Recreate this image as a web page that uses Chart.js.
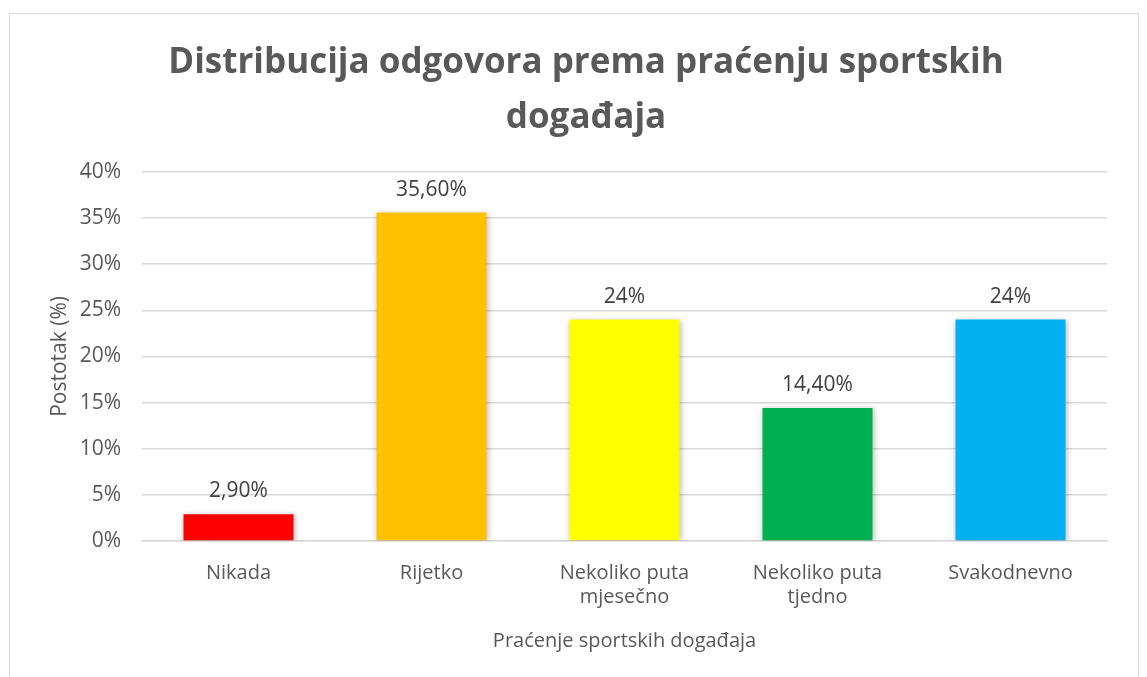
<!DOCTYPE html>
<html>
<head>
<meta charset="utf-8">
<script src="https://cdn.jsdelivr.net/npm/chart.js@4"></script>
<style>
  html, body { margin: 0; padding: 0; background: #fff; }
  #frame { position: absolute; left: 9px; top: 13px; width: 1128px; height: 700px; border: 1px solid #d9d9d9; }
  #wrap { position: absolute; left: 0; top: 0; width: 1147px; height: 677px; }
</style>
</head>
<body>
<div id="frame"></div>
<div id="wrap"><canvas id="myChart" width="1147" height="677"></canvas></div>
<script>
// chart data
var categories = [["Nikada"], ["Rijetko"], ["Nekoliko puta", "mjesečno"], ["Nekoliko puta", "tjedno"], ["Svakodnevno"]];
var values = [2.9, 35.6, 24, 14.4, 24];
var valueLabels = ["2,90%", "35,60%", "24%", "14,40%", "24%"];
var barColors = ["#FF0000", "#FFC000", "#FFFF00", "#00B050", "#00B0F0"];
var yTicks = [0, 5, 10, 15, 20, 25, 30, 35, 40];

var fontFam = "'Open Sans', sans-serif";
var grey = "#595959";

// soft shadow under the bars, like the office chart
var barShadow = {
    id: "barShadow",
    beforeDatasetDraw: function (chart) {
        var ctx = chart.ctx;
        ctx.save();
        ctx.shadowColor = "rgba(0,0,0,0.28)";
        ctx.shadowBlur = 6;
        ctx.shadowOffsetX = 1;
        ctx.shadowOffsetY = 1;
    },
    afterDatasetDraw: function (chart) {
        chart.ctx.restore();
    }
};

// value labels on top of the bars
var topLabels = {
    id: "topLabels",
    afterDatasetsDraw: function (chart) {
        var ctx = chart.ctx;
        var meta = chart.getDatasetMeta(0);
        ctx.save();
        ctx.font = "21px " + fontFam;
        ctx.fillStyle = "#404040";
        ctx.textAlign = "center";
        ctx.textBaseline = "alphabetic";
        meta.data.forEach(function (bar, i) {
            ctx.fillText(valueLabels[i], bar.x, bar.y - 17);
        });
        ctx.restore();
    }
};

var ctx = document.getElementById("myChart").getContext("2d");
var chart = new Chart(ctx, {
    type: "bar",
    data: {
        labels: categories,
        datasets: [{
            data: values,
            backgroundColor: barColors,
            borderWidth: 0,
            categoryPercentage: 1,
            barPercentage: 0.57
        }]
    },
    plugins: [barShadow, topLabels],
    options: {
        responsive: false,
        animation: false,
        layout: { padding: { left: 65, right: 40, top: 0, bottom: 24 } },
        plugins: {
            legend: { display: false },
            tooltip: { enabled: false },
            title: {
                display: true,
                text: ["Distribucija odgovora prema praćenju sportskih", "događaja"],
                color: grey,
                font: { family: fontFam, size: 35, weight: "bold", lineHeight: 1.57 },
                padding: { top: 36, bottom: 26 }
            }
        },
        scales: {
            x: {
                grid: { display: false, drawTicks: false },
                border: { color: "#d9d9d9", width: 1.5 },
                ticks: { color: grey, font: { family: fontFam, size: 20 }, padding: 20, maxRotation: 0 },
                title: {
                    display: true,
                    text: "Praćenje sportskih događaja",
                    color: grey,
                    font: { family: fontFam, size: 20 },
                    padding: { top: 0, bottom: 0 }
                },
                afterFit: function (axis) { axis.height = 112; }
            },
            y: {
                min: 0,
                max: 40,
                afterBuildTicks: function (axis) {
                    axis.ticks = yTicks.map(function (v) { return { value: v }; });
                },
                grid: { color: "#d9d9d9", lineWidth: 1.5, drawTicks: false },
                border: { display: false },
                ticks: {
                    color: grey,
                    font: { family: fontFam, size: 21 },
                    padding: 21,
                    callback: function (v) { return v + "%"; }
                },
                title: {
                    display: true,
                    text: "Postotak (%)",
                    color: grey,
                    font: { family: fontFam, size: 21 },
                    padding: { top: -18, bottom: 0 }
                },
                afterFit: function (axis) { axis.width = 77; }
            }
        }
    }
});
</script>
</body>
</html>
